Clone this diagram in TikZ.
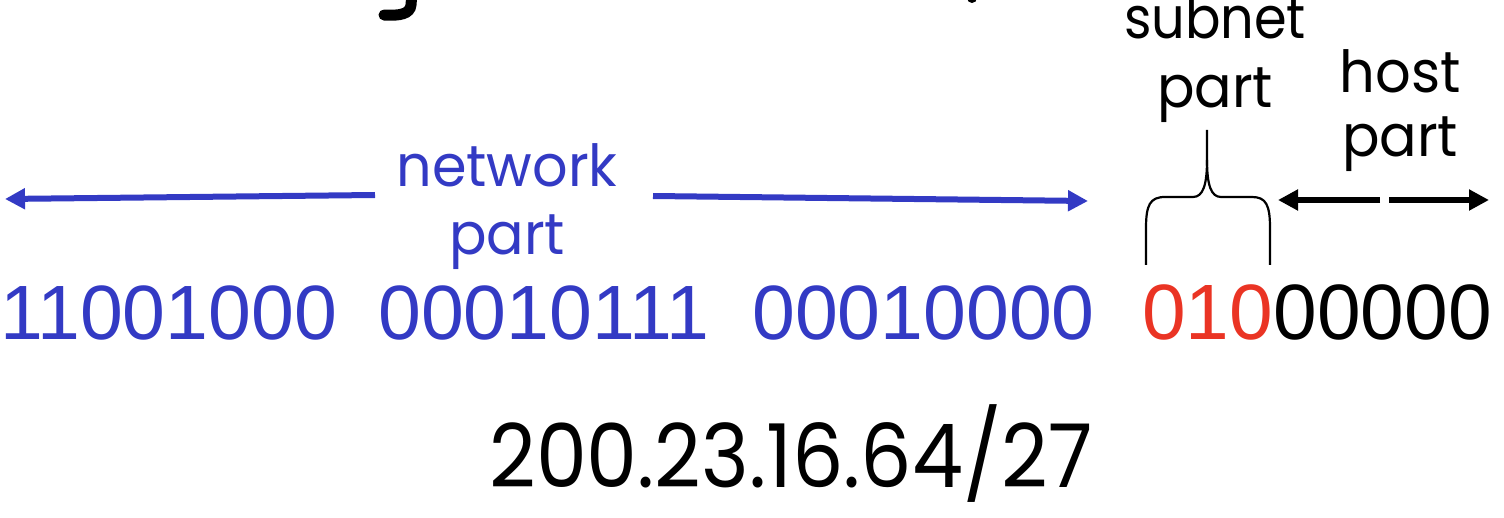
\documentclass[tikz,border=0pt]{standalone}
\usepackage{fontspec}
\setmainfont{Liberation Sans}
\newfontfamily\comicf{Poppins}
\usetikzlibrary{arrows.meta}
\definecolor{netblue}{RGB}{51,58,196}
\definecolor{subred}{RGB}{234,52,36}
\begin{document}
\begin{tikzpicture}[x=1pt,y=-1pt,
  bits/.style={inner sep=0pt, anchor=base west, font=\fontsize{77}{80}\selectfont},
  bitsb/.style={inner sep=0pt, anchor=base west, font=\fontsize{78.5}{80}\selectfont},
  lbl/.style={inner sep=0pt, anchor=base, font=\comicf\fontsize{58}{60}\selectfont},
  bluearrow/.style={draw=netblue, line width=6pt, -{Triangle[length=20pt,width=20pt]}},
  blackarrow/.style={draw=black, line width=6pt, -{Triangle[length=20pt,width=20pt]}},
  bracepath/.style={draw=black, line width=2.2pt, line join=round}]
\useasboundingbox (0,0) rectangle (1504,518);
\clip (0,0) rectangle (1504,518);
% clipped title remnants
\draw[line width=11pt, line cap=round] (412,-8) -- (411,5) .. controls (410,14) and (400,16) .. (384,15);
\fill (972,-2) circle (5);
% labels
\node[lbl, text=netblue] (net1) at (507,187) {\resizebox{221pt}{\height}{network}};
\node[lbl, text=netblue] (net2) at (507,255) {\resizebox{116pt}{\height}{part}};
\node[lbl] (sub1) at (1215,39) {\resizebox{182pt}{\height}{subnet}};
\node[lbl] (sub2) at (1215,108) {\resizebox{116pt}{\height}{part}};
\node[lbl] (host1) at (1400,93) {\resizebox{121pt}{\height}{host}};
\node[lbl] (host2) at (1400,157) {\resizebox{116pt}{\height}{part}};
% binary address
\node[bits, text=netblue] (b1) at (0,340) {11001000};
\node[bits, text=netblue] (b2) at (378,340) {00010111};
\node[bits, text=netblue] (b3) at (752,340) {00010000};
\node[bitsb, text=subred] (b4) at (1142,340) {010};
\node[bitsb, text=black] (b5) at (b4.base east) {00000};
% dotted decimal
\node[inner sep=0pt, anchor=base, font=\comicf\fontsize{88}{90}\selectfont] (addr) at (791,487) {\resizebox{603pt}{\height}{200.23.16.64/27}};
% network arrows
\coordinate (nlA) at (375,195); \coordinate (nlB) at (5,199);
\coordinate (nrA) at (653,196); \coordinate (nrB) at (1088,201);
\draw[bluearrow] (nlA) -- (nlB);
\draw[bluearrow] (nrA) -- (nrB);
% host arrows
\coordinate (hlA) at (1380,200); \coordinate (hlB) at (1278,200);
\coordinate (hrA) at (1389,200); \coordinate (hrB) at (1489,200);
\draw[blackarrow] (hlA) -- (hlB);
\draw[blackarrow] (hrA) -- (hrB);
% subnet brace
\draw[bracepath] (1146,265) -- (1146,228) .. controls (1146,205) and (1150,197) .. (1165,197) -- (1193,197) .. controls (1203,197) and (1207,185) .. (1207,160) -- (1207,130);
\draw[bracepath] (1207,160) .. controls (1207,185) and (1211,197) .. (1221,197) -- (1252,197) .. controls (1266,197) and (1270,205) .. (1270,228) -- (1270,265);
\end{tikzpicture}
\end{document}
